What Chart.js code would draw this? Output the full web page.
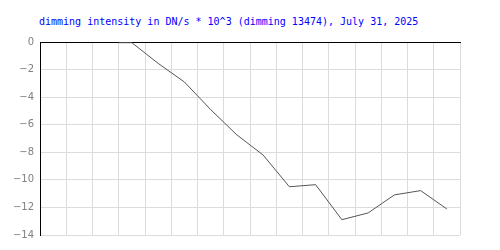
<!DOCTYPE html>
<html>
<head>
<meta charset="utf-8">
<script src="https://cdn.jsdelivr.net/npm/chart.js@4"></script>
<style>
  body { margin: 0; background: #fff; }
  #wrap { position: relative; width: 500px; height: 250px; }
  #title {
    position: absolute; left: 39px; top: 16px;
    font: 10px "DejaVu Sans Mono", monospace; color: #0000ff;
    white-space: pre;
  }
  canvas { position: absolute; left: 0; top: 0; }
</style>
</head>
<body>
<div id="wrap">
  <div id="title">dimming intensity in DN/s * 10^3 (dimming 13474), July 31, 2025</div>
  <canvas id="chart" width="500" height="250"></canvas>
</div>
<script>
// slot positions on the x axis (16 slots, grid at slot edges)
const slots = [3, 3.5, 4.5, 5.5, 6.5, 7.5, 8.5, 9.5, 10.5, 11.5, 12.5, 13.5, 14.5, 15.5];
const intensity = [-0.05, -0.05, -1.55, -2.9, -4.9, -6.74, -8.2, -10.5, -10.35, -12.89, -12.4, -11.09, -10.78, -12.11];
const yTicks = [0, -2, -4, -6, -8, -10, -12, -14];

const points = slots.map((x, i) => ({ x: x, y: intensity[i] }));

new Chart(document.getElementById("chart"), {
  type: "line",
  data: {
    datasets: [{
      data: points,
      borderColor: "#555555",
      borderWidth: 1,
      pointRadius: 0,
      tension: 0,
      fill: false
    }]
  },
  options: {
    responsive: false,
    animation: false,
    layout: { padding: { top: 42, right: 40, bottom: 15, left: 0 } },
    plugins: { legend: { display: false }, tooltip: { enabled: false } },
    scales: {
      x: {
        type: "linear",
        position: "top",
        min: 0,
        max: 16,
        ticks: { display: false, stepSize: 1 },
        grid: { color: "#dcdcdc", drawTicks: false },
        border: { color: "#000000", width: 1 }
      },
      y: {
        min: -14,
        max: 0,
        afterBuildTicks: s => { s.ticks = yTicks.map(v => ({ value: v })); },
        afterFit: s => { s.width = 40; },
        ticks: {
          color: "#808080",
          padding: 6,
          font: { family: "DejaVu Sans", size: 10 },
          callback: v => String(v).replace("-", "\u2212")
        },
        grid: { color: "#dcdcdc", drawTicks: false },
        border: { color: "#000000", width: 1 }
      }
    }
  }
});
</script>
</body>
</html>
